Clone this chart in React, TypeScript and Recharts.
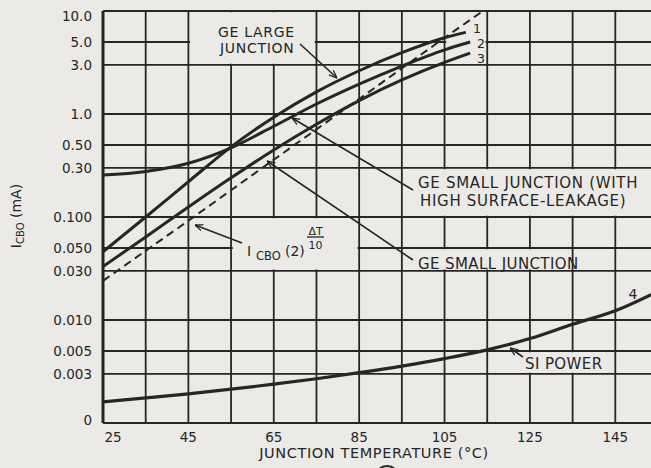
import React from 'react';
import { LineChart, Line, XAxis, YAxis, CartesianGrid, ReferenceArea } from 'recharts';

const PAPER = '#ebeae6';
const INK = '#262626';
const FONT = '"DejaVu Sans", Verdana, sans-serif';

// Junction temperature (°C) grid and labels
const TEMP_TICKS = [25, 35, 45, 55, 65, 75, 85, 95, 105, 115, 125, 135, 145, 155];
const TEMP_LABELS = [25, 45, 65, 85, 105, 125, 145];

// ICBO (mA) grid and labels
const ICBO_TICKS = [0.001, 0.003, 0.005, 0.01, 0.03, 0.05, 0.1, 0.3, 0.5, 1, 3, 5, 10];
const ICBO_LABELS = ['0', '0.003', '0.005', '0.010', '0.030', '0.050', '0.100', '0.30', '0.50', '1.0', '3.0', '5.0', '10.0'];

// Curve 1: GE large junction
const geLargeJunction = [
  { t: 25, v: 0.046 }, { t: 35, v: 0.1 }, { t: 45, v: 0.22 }, { t: 55, v: 0.48 },
  { t: 65, v: 0.93 }, { t: 75, v: 1.64 }, { t: 85, v: 2.63 }, { t: 95, v: 3.94 },
  { t: 105, v: 5.5 }, { t: 110, v: 6.2 },
];
// Curve 2: GE small junction with high surface leakage
const geSmallLeakage = [
  { t: 25, v: 0.255 }, { t: 35, v: 0.277 }, { t: 45, v: 0.333 }, { t: 55, v: 0.47 },
  { t: 65, v: 0.76 }, { t: 75, v: 1.25 }, { t: 85, v: 1.95 }, { t: 95, v: 2.92 },
  { t: 105, v: 4.2 }, { t: 111, v: 5.0 },
];
// Curve 3: GE small junction
const geSmallJunction = [
  { t: 25, v: 0.033 }, { t: 35, v: 0.064 }, { t: 45, v: 0.125 }, { t: 55, v: 0.24 },
  { t: 65, v: 0.448 }, { t: 75, v: 0.796 }, { t: 85, v: 1.35 }, { t: 95, v: 2.14 },
  { t: 105, v: 3.17 }, { t: 111, v: 3.9 },
];
// Dashed: ICBO (2)^(ΔT/10) rule
const doublingRule = [
  { t: 25, v: 0.024 }, { t: 45, v: 0.092 }, { t: 65, v: 0.36 }, { t: 85, v: 1.4 },
  { t: 105, v: 5.5 }, { t: 114, v: 10 },
];
// Curve 4: Si power
const siPower = [
  { t: 25, v: 0.0016 }, { t: 35, v: 0.00175 }, { t: 45, v: 0.00192 }, { t: 55, v: 0.00213 },
  { t: 65, v: 0.00238 }, { t: 75, v: 0.00269 }, { t: 85, v: 0.00308 }, { t: 95, v: 0.00357 },
  { t: 105, v: 0.00422 }, { t: 115, v: 0.00513 }, { t: 125, v: 0.0066 }, { t: 135, v: 0.0091 },
  { t: 145, v: 0.0123 }, { t: 155, v: 0.019 },
];

// label boxes that interrupt the grid (in data units)
const BOXES = [
  { x1: 45.4, x2: 74.6, y1: 3.08, y2: 9.75 },
  { x1: 105.4, x2: 114.6, y1: 3.08, y2: 9.75 },
  { x1: 95.4, x2: 155, y1: 0.103, y2: 0.29 },
  { x1: 95.4, x2: 134.6, y1: 0.031, y2: 0.0485 },
  { x1: 55.4, x2: 84.6, y1: 0.031, y2: 0.097 },
  { x1: 115.4, x2: 144.6, y1: 0.00308, y2: 0.00485 },
];

const XTick = (props: any) => {
  const { x, y, payload } = props;
  if (!TEMP_LABELS.includes(payload.value)) return null;
  const dx = payload.value === 25 ? 10 : 0;
  return (
    <text x={x + dx} y={y + 19} textAnchor="middle" fontFamily={FONT} fontSize={13.5} fill={INK}>
      {String(payload.value)}
    </text>
  );
};

const YTick = (props: any) => {
  const { x, y, payload } = props;
  const i = ICBO_TICKS.indexOf(payload.value);
  if (i < 0) return null;
  let off = 5;
  if (payload.value === 10) off = 10;
  if (payload.value === 0.001) off = 2;
  return (
    <text x={x} y={y + off} textAnchor="end" fontFamily={FONT} fontSize={13.5} fill={INK}>
      {ICBO_LABELS[i]}
    </text>
  );
};

const txt = { fontFamily: FONT, fill: INK } as const;

const Overlay = () => (
  <svg width={651} height={468} style={{ position: 'absolute', left: 0, top: 0, pointerEvents: 'none' }}>
    <defs>
      <marker id="arr" viewBox="0 0 10 10" refX="10" refY="5" markerWidth="8" markerHeight="8"
        markerUnits="userSpaceOnUse" orient="auto">
        <path d="M0,1 L10,5 L0,9" fill="none" stroke={INK} strokeWidth={1.6} />
      </marker>
    </defs>
    {/* y-axis title */}
    <text transform="translate(21,216) rotate(-90)" textAnchor="middle" {...txt} fontSize={14}>
      I<tspan fontSize={10} dy={3}>CBO</tspan><tspan dy={-3}> (mA)</tspan>
    </text>
    {/* x-axis title */}
    <text x={374} y={458} textAnchor="middle" {...txt} fontSize={14.5} letterSpacing={0.6}>
      JUNCTION  TEMPERATURE (°C)
    </text>
    <circle cx={387} cy={478} r={12} fill="none" stroke={INK} strokeWidth={2} />

    {/* annotations */}
    <text x={218} y={36.5} {...txt} fontSize={14} letterSpacing={0.7}>GE LARGE</text>
    <text x={220} y={53} {...txt} fontSize={14} letterSpacing={0.7}>JUNCTION</text>
    <line x1={300} y1={44} x2={337} y2={78} stroke={INK} strokeWidth={1.6} markerEnd="url(#arr)" />

    <text x={418} y={187.5} {...txt} fontSize={15} letterSpacing={0.7}>GE SMALL JUNCTION (WITH</text>
    <text x={420} y={205.5} {...txt} fontSize={15} letterSpacing={0.7}>HIGH SURFACE-LEAKAGE)</text>
    <line x1={413} y1={190} x2={292} y2={118} stroke={INK} strokeWidth={1.6} markerEnd="url(#arr)" />

    <text x={418} y={268.5} {...txt} fontSize={15} letterSpacing={0.4}>GE SMALL JUNCTION</text>
    <line x1={413} y1={260} x2={267} y2={161} stroke={INK} strokeWidth={1.6} markerEnd="url(#arr)" />

    <text x={247} y={255.5} {...txt} fontSize={14}>I</text>
    <text x={256} y={260} {...txt} fontSize={11.5}>CBO</text>
    <text x={285} y={255.5} {...txt} fontSize={14}>(2)</text>
    <text x={315.5} y={234.5} textAnchor="middle" {...txt} fontSize={11}>ΔT</text>
    <line x1={307} y1={237} x2={324} y2={237} stroke={INK} strokeWidth={1.3} />
    <text x={315.5} y={249} textAnchor="middle" {...txt} fontSize={11}>10</text>
    <line x1={242} y1={243} x2={195} y2={225} stroke={INK} strokeWidth={1.6} markerEnd="url(#arr)" />

    <text x={525} y={368.5} {...txt} fontSize={15} letterSpacing={0.4}>SI POWER</text>
    <line x1={523} y1={357} x2={510} y2={348} stroke={INK} strokeWidth={1.6} markerEnd="url(#arr)" />

    <text x={477} y={32.5} textAnchor="middle" {...txt} fontSize={12.5}>1</text>
    <text x={481} y={47.5} textAnchor="middle" {...txt} fontSize={12.5}>2</text>
    <text x={481} y={62.5} textAnchor="middle" {...txt} fontSize={12.5}>3</text>
    <text x={633} y={298.5} textAnchor="middle" {...txt} fontSize={14}>4</text>
  </svg>
);

export default function App() {
  return (
    <div style={{ position: 'absolute', left: 0, top: 0, width: 651, height: 468, overflow: 'hidden', background: PAPER }}>
      <LineChart width={670} height={468} margin={{ top: 11, right: 12, bottom: 15, left: 43 }}>
        <CartesianGrid stroke={INK} strokeWidth={1.8} />
        <XAxis
          type="number"
          dataKey="t"
          domain={[25, 155]}
          ticks={TEMP_TICKS}
          interval={0}
          allowDataOverflow
          height={30}
          tickLine={false}
          tickSize={0}
          tickMargin={0}
          axisLine={{ stroke: INK, strokeWidth: 2 }}
          tick={<XTick />}
        />
        <YAxis
          type="number"
          scale="log"
          domain={[0.001, 10]}
          ticks={ICBO_TICKS}
          interval={0}
          allowDataOverflow
          width={60}
          tickLine={false}
          tickSize={0}
          tickMargin={11}
          axisLine={{ stroke: INK, strokeWidth: 3 }}
          tick={<YTick />}
        />
        {BOXES.map((b, i) => (
          <ReferenceArea key={i} x1={b.x1} x2={b.x2} y1={b.y1} y2={b.y2} fill={PAPER} fillOpacity={1} stroke="none" ifOverflow="hidden" />
        ))}
        <Line data={geLargeJunction} dataKey="v" type="monotone" stroke={INK} strokeWidth={3} dot={false} isAnimationActive={false} />
        <Line data={geSmallLeakage} dataKey="v" type="monotone" stroke={INK} strokeWidth={3} dot={false} isAnimationActive={false} />
        <Line data={geSmallJunction} dataKey="v" type="monotone" stroke={INK} strokeWidth={3} dot={false} isAnimationActive={false} />
        <Line data={doublingRule} dataKey="v" type="linear" stroke={INK} strokeWidth={2} strokeDasharray="8 5" dot={false} isAnimationActive={false} />
        <Line data={siPower} dataKey="v" type="monotone" stroke={INK} strokeWidth={3.2} dot={false} isAnimationActive={false} />
      </LineChart>
      <Overlay />
    </div>
  );
}
